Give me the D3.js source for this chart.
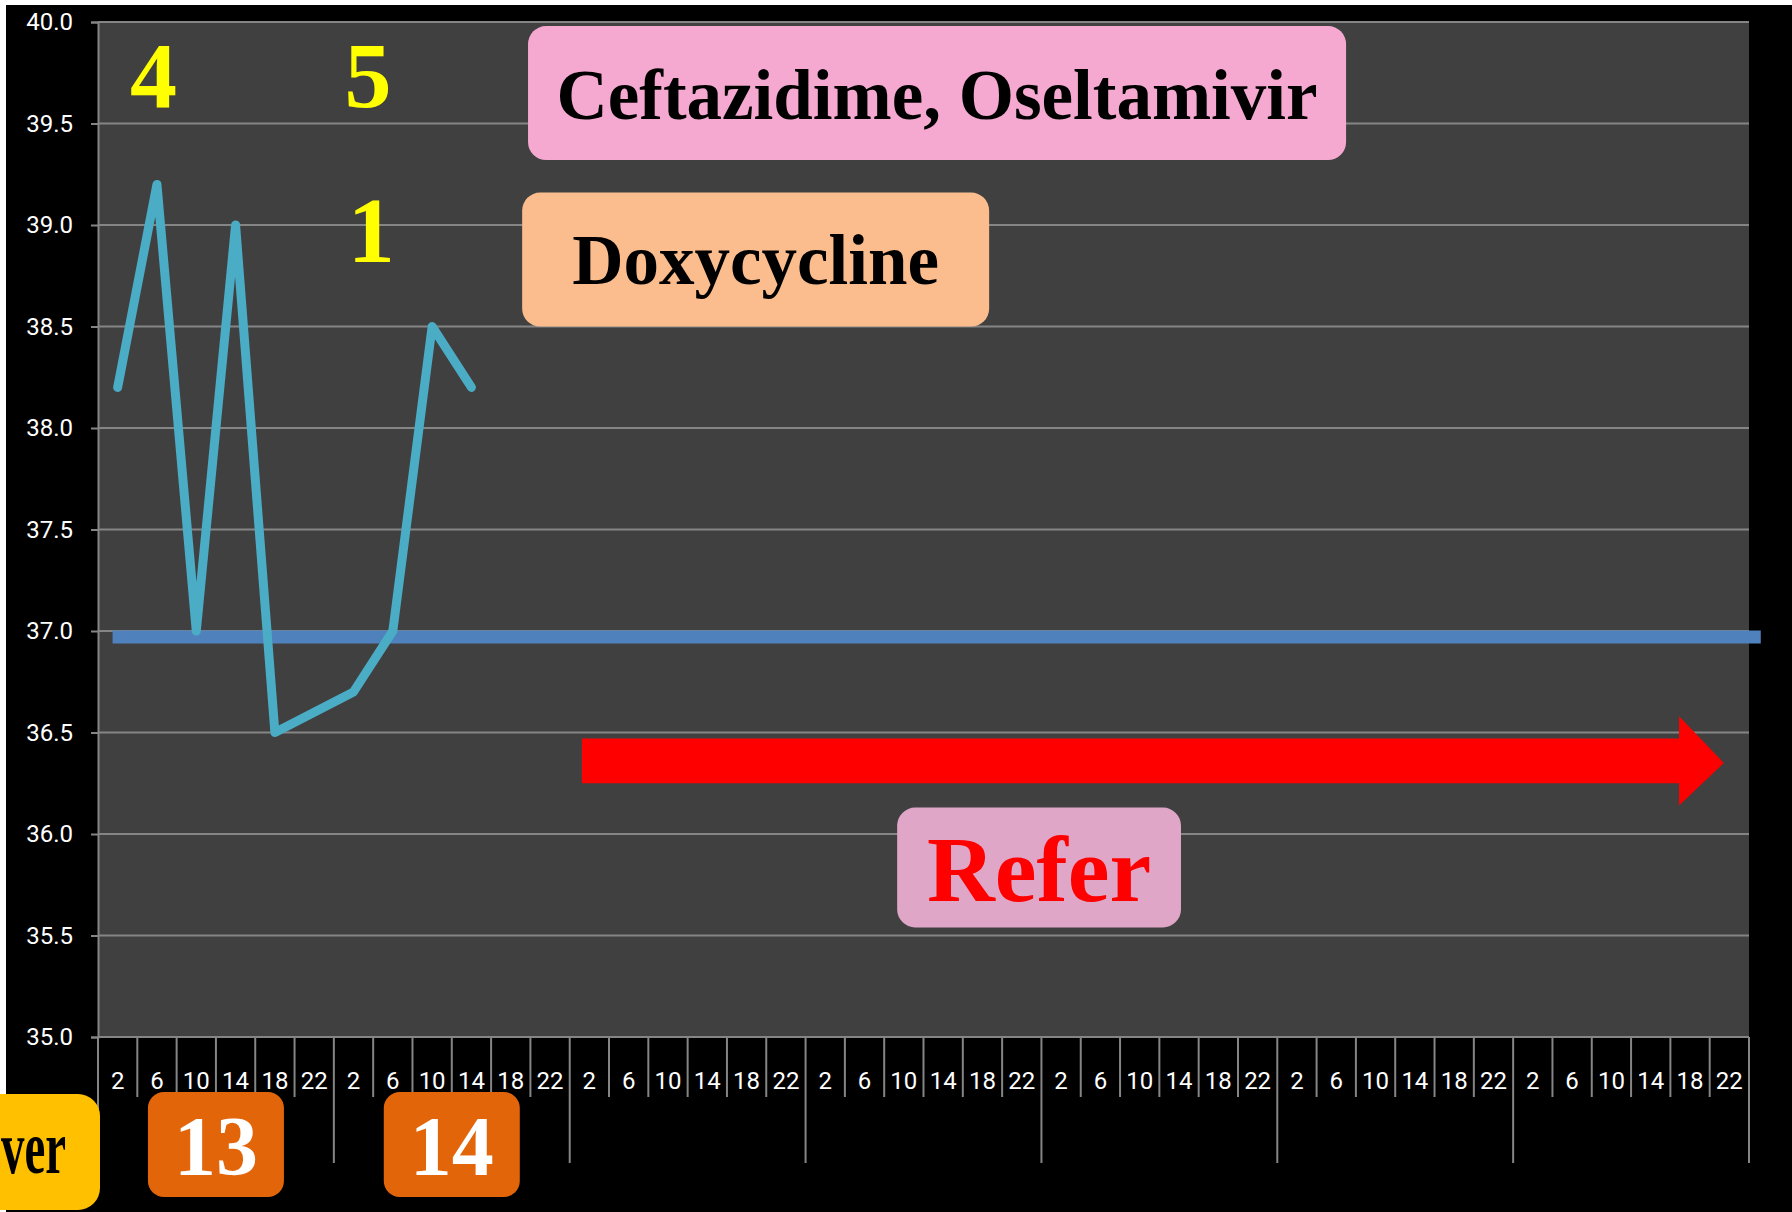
<!DOCTYPE html>
<html>
<head>
<meta charset="utf-8">
<script src="https://d3js.org/d3.v7.min.js"></script>
<style>
  body { margin: 0; background: #fff; overflow: hidden; }
</style>
</head>
<body>
<script>
// ---- data ----
var hours = ["2", "6", "10", "14", "18", "22"];
var days = ["13", "14", "", "", "", "", ""];
var temps = [38.2, 39.2, 37.0, 39.0, 36.5, 36.6, 36.7, 37.0, 38.5, 38.2];
var yTicks = [35.0, 35.5, 36.0, 36.5, 37.0, 37.5, 38.0, 38.5, 39.0, 39.5, 40.0];
var normalTemp = 36.97;
var doseLabels = ["4", "5", "1"];
var drugs = ["Ceftazidime, Oseltamivir", "Doxycycline"];
var referText = "Refer";
var feverText = "ver";   // only the tail of this label is on the slide

// ---- layout ----
var width = 1792, height = 1212;
var plotL = 98, plotR = 1749, plotT = 22, plotB = 1037;
var serif = "'Liberation Serif', 'Times New Roman', serif";
var sans = "Roboto, 'Noto Sans', sans-serif";

var nCats = hours.length * days.length;
var cats = d3.range(nCats);

var x = d3.scaleBand().domain(cats).range([plotL, plotR]).padding(0);
// continuous version of the category axis, used to place the annotations
var xi = d3.scaleLinear().domain([-0.5, nCats - 0.5]).range([plotL, plotR]);
var y = d3.scaleLinear().domain([35, 40]).range([plotB, plotT]);

var svg = d3.select("body").append("svg")
    .attr("width", width)
    .attr("height", height);

svg.append("rect").attr("width", width).attr("height", height).attr("fill", "#fff");
svg.append("rect").attr("x", 6).attr("y", 5)
    .attr("width", width).attr("height", height).attr("fill", "#000");

// plot area
svg.append("rect")
    .attr("x", plotL).attr("y", plotT)
    .attr("width", plotR - plotL).attr("height", plotB - plotT)
    .attr("fill", "#404040");

// horizontal gridlines
svg.append("g").selectAll("line")
    .data(yTicks)
    .enter().append("line")
    .attr("x1", plotL).attr("x2", plotR)
    .attr("y1", function(d) { return y(d); })
    .attr("y2", function(d) { return y(d); })
    .attr("stroke", "#858585")
    .attr("stroke-width", 2);

// y axis
var yAxis = svg.append("g")
    .attr("transform", "translate(" + plotL + ",0)")
    .call(d3.axisLeft(y).tickValues(yTicks).tickFormat(d3.format(".1f")).tickSize(7).tickPadding(18));
yAxis.select(".domain").attr("stroke", "#858585").attr("stroke-width", 2);
yAxis.selectAll(".tick line").attr("stroke", "#858585").attr("stroke-width", 2);
yAxis.selectAll(".tick text")
    .attr("fill", "#fff")
    .style("font-family", sans)
    .style("font-size", "24px");

// x axis: boundary ticks, longer ones between days
svg.append("g").selectAll("line")
    .data(d3.range(nCats + 1))
    .enter().append("line")
    .attr("x1", function(i) { return xi(i - 0.5); })
    .attr("x2", function(i) { return xi(i - 0.5); })
    .attr("y1", plotB)
    .attr("y2", function(i) { return i % hours.length === 0 ? 1163 : 1097; })
    .attr("stroke", "#858585")
    .attr("stroke-width", 2);

svg.append("line")
    .attr("x1", plotL).attr("x2", plotR)
    .attr("y1", plotB).attr("y2", plotB)
    .attr("stroke", "#858585").attr("stroke-width", 2);

svg.append("g").selectAll("text")
    .data(cats)
    .enter().append("text")
    .attr("x", function(i) { return x(i) + x.bandwidth() / 2; })
    .attr("y", 1089)
    .attr("text-anchor", "middle")
    .attr("fill", "#fff")
    .style("font-family", sans)
    .style("font-size", "24px")
    .text(function(i) { return hours[i % hours.length]; });

// day labels (orange boxes)
var dayG = svg.append("g").selectAll("g")
    .data(days.map(function(d, k) { return { label: d, k: k }; }).filter(function(d) { return d.label; }))
    .enter().append("g")
    .attr("transform", function(d) {
        return "translate(" + xi(d.k * hours.length + (hours.length - 1) / 2) + ",0)";
    });
dayG.append("rect")
    .attr("x", -68).attr("y", 1092)
    .attr("width", 136).attr("height", 105)
    .attr("rx", 16)
    .attr("fill", "#E2650A");
dayG.append("text")
    .attr("y", 1175)
    .attr("text-anchor", "middle")
    .attr("fill", "#fff")
    .style("font-family", serif)
    .style("font-weight", "bold")
    .style("font-size", "84px")
    .text(function(d) { return d.label; });

// yellow box at the bottom left, mostly off the edge
svg.append("rect")
    .attr("x", -80).attr("y", 1094)
    .attr("width", 180).attr("height", 116)
    .attr("rx", 22)
    .attr("fill", "#FFC000");
svg.append("text")
    .attr("x", 66).attr("y", 1173)
    .attr("text-anchor", "end")
    .attr("fill", "#000")
    .attr("textLength", 65)
    .attr("lengthAdjust", "spacingAndGlyphs")
    .style("font-family", serif)
    .style("font-weight", "bold")
    .style("font-size", "76px")
    .text(feverText);

// normal temperature line
svg.append("line")
    .attr("x1", xi(-0.13)).attr("x2", xi(nCats - 0.2))
    .attr("y1", y(normalTemp)).attr("y2", y(normalTemp))
    .attr("stroke", "#4F81BD")
    .attr("stroke-width", 13);

// temperature series
var line = d3.line()
    .x(function(d, i) { return x(i) + x.bandwidth() / 2; })
    .y(function(d) { return y(d); });

svg.append("path")
    .datum(temps)
    .attr("d", line)
    .attr("fill", "none")
    .attr("stroke", "#4BACC6")
    .attr("stroke-width", 9)
    .attr("stroke-linejoin", "round")
    .attr("stroke-linecap", "round");

// dose counters
var dosePos = [[0.91, 39.58], [6.37, 39.58], [6.45, 38.82]];
svg.append("g").selectAll("text")
    .data(doseLabels)
    .enter().append("text")
    .attr("x", function(d, i) { return xi(dosePos[i][0]); })
    .attr("y", function(d, i) { return y(dosePos[i][1]); })
    .attr("text-anchor", "middle")
    .attr("fill", "#FFFF00")
    .style("font-family", serif)
    .style("font-weight", "bold")
    .style("font-size", "94px")
    .text(function(d) { return d; });

// drug boxes
var drugBoxes = [
    { i0: 10.44, i1: 31.25, v0: 39.98, v1: 39.32, base: 39.52, fill: "#F5A9D1" },
    { i0: 10.29, i1: 22.17, v0: 39.16, v1: 38.50, base: 38.71, fill: "#FBBD8D" }
];
var drugG = svg.append("g").selectAll("g")
    .data(drugs)
    .enter().append("g");
drugG.append("rect")
    .attr("x", function(d, i) { return xi(drugBoxes[i].i0); })
    .attr("y", function(d, i) { return y(drugBoxes[i].v0); })
    .attr("width", function(d, i) { return xi(drugBoxes[i].i1) - xi(drugBoxes[i].i0); })
    .attr("height", function(d, i) { return y(drugBoxes[i].v1) - y(drugBoxes[i].v0); })
    .attr("rx", 18)
    .attr("fill", function(d, i) { return drugBoxes[i].fill; });
drugG.append("text")
    .attr("x", function(d, i) { return (xi(drugBoxes[i].i0) + xi(drugBoxes[i].i1)) / 2; })
    .attr("y", function(d, i) { return y(drugBoxes[i].base); })
    .attr("text-anchor", "middle")
    .attr("fill", "#000")
    .style("font-family", serif)
    .style("font-weight", "bold")
    .style("font-size", "71px")
    .text(function(d) { return d; });

// referral arrow
var arrow = [
    [xi(11.81), y(36.47)], [xi(39.72), y(36.47)], [xi(39.72), y(36.58)],
    [xi(40.86), y(36.35)],
    [xi(39.72), y(36.14)], [xi(39.72), y(36.25)], [xi(11.81), y(36.25)]
];
svg.append("path")
    .attr("d", "M" + arrow.join("L") + "Z")
    .attr("fill", "#FF0000");

svg.append("rect")
    .attr("x", xi(19.83)).attr("y", y(36.13))
    .attr("width", xi(27.05) - xi(19.83)).attr("height", y(35.54) - y(36.13))
    .attr("rx", 18)
    .attr("fill", "#E0A6C8");
svg.append("text")
    .attr("x", (xi(19.83) + xi(27.05)) / 2)
    .attr("y", y(35.67))
    .attr("text-anchor", "middle")
    .attr("fill", "#FF0000")
    .style("font-family", serif)
    .style("font-weight", "bold")
    .style("font-size", "94px")
    .text(referText);
</script>
</body>
</html>
